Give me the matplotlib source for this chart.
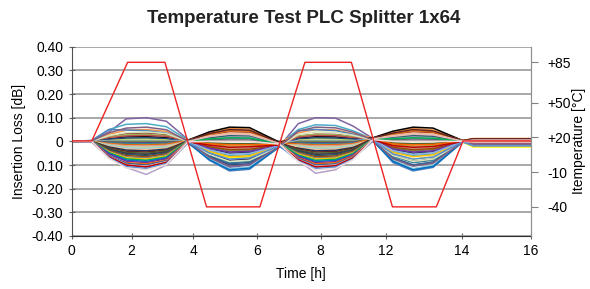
import matplotlib
matplotlib.use("Agg")
import matplotlib.pyplot as plt

plt.rcParams['font.family'] = ['Liberation Sans', 'DejaVu Sans']

# x positions of the Excel category ticks and their labels
xtick_pos = [0, 2.09, 4.24, 6.45, 8.68, 10.95, 13.60, 16]
xtick_lab = ['0', '2', '4', '6', '8', '12', '14', '16']

# chamber temperature profile
temp_time = [0, 0.70, 1.95, 3.25, 4.70, 6.56, 8.13, 9.75, 11.18, 12.71, 13.64, 16]
temp_c = [17, 17, 85, 85, -40, -40, 85, 85, -40, -40, 17, 17]

# insertion loss change per output port
il_time = [0, 0.7, 1.3, 1.9, 2.6, 3.3, 4.05, 4.8, 5.5, 6.2, 7.25, 7.9, 8.5, 9.2, 9.8,
           10.5, 11.2, 11.9, 12.6, 13.63, 14.0, 16]

ch01 = [0, 0.002, 0.04, 0.095, 0.10, 0.085, 0.008, -0.07, -0.11, -0.10, -0.02, 0.075, 0.10, 0.098, 0.065, 0.012, -0.085, -0.12, -0.105, 0.002, 0.002, 0.002]
ch02 = [0, 0.003, 0.05, 0.072, 0.075, 0.062, 0.006, -0.04, -0.06, -0.056, -0.012, 0.05, 0.07, 0.067, 0.045, 0.01, -0.042, -0.06, -0.053, 0.003, 0.008, 0.008]
ch03 = [0, 0.001, 0.03, 0.047, 0.05, 0.042, 0.004, 0.036, 0.055, 0.052, -0.006, 0.036, 0.05, 0.048, 0.033, 0.014, 0.039, 0.055, 0.048, 0.004, 0.012, 0.012]
ch04 = [0, 0.004, 0.05, 0.048, 0.045, 0.035, -0.002, -0.08, -0.125, -0.118, -0.022, 0.045, 0.05, 0.045, 0.03, 0.004, -0.09, -0.125, -0.11, -0.002, -0.005, -0.005]
ch05 = [0, 0.0, 0.012, 0.019, 0.02, 0.017, 0.005, 0.04, 0.06, 0.058, -0.004, 0.015, 0.02, 0.019, 0.013, 0.015, 0.043, 0.06, 0.056, 0.003, 0.01, 0.01]
ch06 = [0, 0.001, 0.02, 0.033, 0.035, 0.029, 0.003, 0.026, 0.04, 0.038, -0.008, 0.022, 0.03, 0.029, 0.02, 0.012, 0.028, 0.04, 0.036, 0.002, 0.006, 0.006]
ch07 = [0, 0.0, 0.018, 0.028, 0.03, 0.025, 0.001, -0.013, -0.02, -0.019, -0.013, 0.022, 0.03, 0.028, 0.02, 0.008, -0.014, -0.02, -0.018, 0.0, 0.0, 0.0]
ch08 = [0, -0.001, 0.015, 0.023, 0.025, 0.021, 0.002, 0.02, 0.03, 0.028, -0.01, 0.018, 0.025, 0.024, 0.016, 0.01, 0.021, 0.03, 0.027, 0.001, 0.004, 0.004]
ch09 = [0, -0.004, 0.006, 0.009, 0.01, 0.008, -0.004, -0.046, -0.07, -0.066, -0.02, 0.007, 0.01, 0.01, 0.006, 0.002, -0.052, -0.075, -0.066, -0.003, -0.024, -0.024]
ch10 = [0, -0.002, 0.009, 0.014, 0.015, 0.012, -0.003, -0.065, -0.10, -0.095, -0.021, 0.011, 0.015, 0.014, 0.01, 0.003, -0.07, -0.10, -0.088, -0.002, -0.01, -0.01]
ch11 = [0, 0.001, 0.003, 0.005, 0.005, 0.004, 0.001, 0.013, 0.02, 0.019, -0.011, 0.004, 0.005, 0.005, 0.003, 0.009, 0.014, 0.02, 0.018, 0.001, 0.003, 0.003]
ch12 = [0, -0.001, 0.0, 0.0, 0.0, 0.0, -0.001, -0.026, -0.04, -0.038, -0.016, 0.0, 0.0, 0.0, 0.0, 0.006, -0.028, -0.04, -0.035, -0.001, -0.008, -0.008]
ch13 = [0, 0.0, -0.003, -0.005, -0.005, -0.004, 0.0, 0.007, 0.01, 0.01, -0.012, -0.004, -0.005, -0.005, -0.003, 0.007, 0.007, 0.01, 0.009, 0.0, -0.003, -0.003]
ch14 = [0, -0.002, -0.006, -0.009, -0.01, -0.008, -0.003, -0.058, -0.09, -0.085, -0.019, -0.007, -0.01, -0.01, -0.007, 0.004, -0.063, -0.09, -0.08, -0.002, -0.015, -0.015]
ch15 = [0, 0.0, -0.009, -0.014, -0.015, -0.012, 0.004, 0.03, 0.045, 0.043, -0.007, -0.011, -0.015, -0.014, -0.01, 0.013, 0.032, 0.045, 0.04, 0.003, 0.009, 0.009]
ch16 = [0, -0.001, -0.012, -0.019, -0.02, -0.017, -0.001, -0.02, -0.03, -0.028, -0.015, -0.015, -0.02, -0.019, -0.013, 0.006, -0.021, -0.03, -0.027, -0.001, -0.006, -0.006]
ch17 = [0, 0.0, -0.015, -0.023, -0.025, -0.021, 0.0, 0.0, 0.0, 0.0, -0.013, -0.018, -0.025, -0.024, -0.016, 0.007, 0.0, 0.0, 0.0, 0.0, -0.002, -0.002]
ch18 = [0, -0.003, -0.06, -0.11, -0.14, -0.10, -0.008, 0.013, 0.02, 0.019, -0.012, -0.08, -0.135, -0.12, -0.07, 0.0, 0.014, 0.02, 0.018, -0.002, -0.012, -0.012]
ch19 = [0, -0.002, -0.018, -0.028, -0.03, -0.025, -0.004, -0.075, -0.115, -0.108, -0.022, -0.022, -0.03, -0.029, -0.02, 0.003, -0.08, -0.115, -0.1, -0.002, -0.018, -0.018]
ch20 = [0, 0.0, -0.021, -0.033, -0.035, -0.029, 0.003, 0.023, 0.035, 0.033, -0.008, -0.025, -0.035, -0.033, -0.023, 0.012, 0.025, 0.035, 0.031, 0.002, 0.007, 0.007]
ch21 = [0, -0.001, -0.024, -0.037, -0.04, -0.033, -0.002, -0.033, -0.05, -0.047, -0.017, -0.029, -0.04, -0.038, -0.026, 0.005, -0.035, -0.05, -0.044, -0.001, -0.011, -0.011]
ch22 = [0, 0.001, -0.027, -0.042, -0.045, -0.037, 0.004, 0.033, 0.05, 0.047, -0.006, -0.032, -0.045, -0.043, -0.029, 0.014, 0.035, 0.05, 0.044, 0.003, 0.011, 0.011]
ch23 = [0, 0.0, -0.03, -0.047, -0.05, -0.041, 0.0, -0.007, -0.01, -0.01, -0.014, -0.036, -0.05, -0.048, -0.033, 0.007, -0.007, -0.01, -0.009, 0.0, -0.004, -0.004]
ch24 = [0, -0.002, -0.033, -0.051, -0.055, -0.045, -0.003, -0.052, -0.08, -0.075, -0.019, -0.04, -0.055, -0.052, -0.036, 0.004, -0.06, -0.085, -0.075, -0.002, -0.016, -0.016]
ch25 = [0, 0.0, -0.036, -0.056, -0.06, -0.049, 0.002, 0.016, 0.025, 0.024, -0.01, -0.043, -0.06, -0.057, -0.039, 0.01, 0.018, 0.025, 0.022, 0.001, 0.002, 0.002]
ch26 = [0, -0.001, -0.039, -0.06, -0.065, -0.053, -0.001, -0.023, -0.035, -0.033, -0.016, -0.047, -0.065, -0.062, -0.042, 0.006, -0.025, -0.035, -0.031, -0.001, -0.007, -0.007]
ch27 = [0, 0.0, -0.042, -0.065, -0.07, -0.057, 0.001, 0.003, 0.005, 0.005, -0.012, -0.05, -0.07, -0.067, -0.046, 0.008, 0.004, 0.005, 0.004, 0.0, -0.001, -0.001]
ch28 = [0, -0.003, -0.045, -0.07, -0.075, -0.062, -0.002, -0.042, -0.065, -0.061, -0.018, -0.054, -0.075, -0.071, -0.049, 0.004, -0.046, -0.065, -0.057, -0.002, -0.02, -0.02]
ch29 = [0, 0.0, -0.048, -0.074, -0.08, -0.066, 0.001, 0.01, 0.015, 0.014, -0.011, -0.058, -0.08, -0.076, -0.052, 0.009, 0.011, 0.015, 0.013, 0.001, 0.001, 0.001]
ch30 = [0, -0.002, -0.051, -0.079, -0.085, -0.07, -0.006, -0.078, -0.12, -0.113, -0.023, -0.061, -0.085, -0.081, -0.055, 0.002, -0.084, -0.12, -0.106, -0.002, -0.013, -0.013]
ch31 = [0, -0.001, -0.054, -0.084, -0.09, -0.074, -0.002, -0.029, -0.045, -0.042, -0.017, -0.065, -0.09, -0.086, -0.059, 0.005, -0.032, -0.045, -0.04, -0.001, -0.009, -0.009]
ch32 = [0, -0.002, -0.07, -0.09, -0.095, -0.08, -0.001, -0.01, -0.015, -0.014, -0.014, -0.07, -0.095, -0.09, -0.062, 0.007, -0.011, -0.015, -0.013, 0.0, -0.005, -0.005]
ch33 = [0, -0.002, -0.06, -0.093, -0.10, -0.082, -0.005, -0.062, -0.095, -0.089, -0.021, -0.072, -0.10, -0.095, -0.065, 0.003, -0.07, -0.10, -0.088, -0.002, -0.014, -0.014]
ch34 = [0, 0.0, -0.063, -0.098, -0.105, -0.086, 0.0, 0.02, 0.03, 0.028, -0.009, -0.076, -0.105, -0.1, -0.068, 0.011, 0.021, 0.03, 0.027, 0.001, 0.005, 0.005]
ch35 = [0, -0.001, -0.066, -0.102, -0.11, -0.09, -0.003, -0.036, -0.055, -0.051, -0.018, -0.079, -0.11, -0.105, -0.072, 0.005, -0.039, -0.055, -0.048, -0.001, -0.01, -0.01]
ch36 = [0, -0.001, -0.065, -0.1, -0.108, -0.089, -0.002, -0.016, -0.025, -0.023, -0.015, -0.078, -0.108, -0.103, -0.07, 0.006, -0.018, -0.025, -0.022, -0.001, -0.006, -0.006]
ch37 = [0, 0.001, 0.024, 0.037, 0.04, 0.033, -0.001, -0.055, -0.085, -0.08, -0.02, 0.029, 0.04, 0.038, 0.026, 0.005, -0.06, -0.085, -0.075, -0.002, -0.017, -0.017]
ch38 = [0, 0.002, 0.036, 0.056, 0.06, 0.049, 0.0, -0.068, -0.105, -0.098, -0.021, 0.043, 0.06, 0.057, 0.039, 0.006, -0.074, -0.105, -0.092, -0.001, -0.012, -0.012]
ch39 = [0, -0.002, -0.069, -0.107, -0.115, -0.094, -0.004, -0.049, -0.075, -0.07, -0.019, -0.083, -0.115, -0.109, -0.075, 0.004, -0.053, -0.075, -0.066, -0.002, -0.019, -0.019]
ch40 = [0, -0.001, -0.072, -0.112, -0.12, -0.098, -0.002, 0.0, 0.0, 0.0, -0.012, -0.086, -0.12, -0.114, -0.078, 0.007, 0.0, 0.0, 0.0, 0.0, -0.003, -0.003]

channels = [ch01, ch02, ch03, ch04, ch05, ch06, ch07, ch08, ch09, ch10,
            ch11, ch12, ch13, ch14, ch15, ch16, ch17, ch18, ch19, ch20,
            ch21, ch22, ch23, ch24, ch25, ch26, ch27, ch28, ch29, ch30,
            ch31, ch32, ch33, ch34, ch35, ch36, ch37, ch38, ch39, ch40]

colors = ['#8064A2', '#4BACC6', '#F79646', '#4F81BD', '#000000', '#953735', '#9BBB59', '#C0504D',
          '#FFFF00', '#1F497D', '#95B3D7', '#76923C', '#5F497A', '#31859C', '#E36C09', '#D99694',
          '#C3D69B', '#B3A2C7', '#93CDDD', '#FAC090', '#17375E', '#632523', '#4F6228', '#3F3151',
          '#215968', '#984807', '#7F7F7F', '#FFC000', '#00B050', '#0070C0', '#7030A0', '#FF6600',
          '#366092', '#E6B9B8', '#8DB3E2', '#C00000', '#D7E4BC', '#7F6084', '#558ED5', '#F2DCDB']

fig = plt.figure(figsize=(5.9, 2.89), dpi=100)
ax = fig.add_axes([0.1215, 0.1834, 0.778, 0.655])

for vals, col in zip(channels, colors):
    ax.plot(il_time, vals, color=col, lw=1.1)

ax.set_xlim(0, 16)
ax.set_ylim(-0.4, 0.4)
ax.set_yticks([0.4, 0.3, 0.2, 0.1, 0, -0.1, -0.2, -0.3, -0.4])
ax.set_yticklabels(['0.40', '0.30', '0.20', '0.10', '0', '0.10', '-0.20', '-0.30', '-0.40'])
ax.set_xticks(xtick_pos)
ax.set_xticklabels(xtick_lab)
ax.yaxis.grid(True, color='#9a9a9a', lw=1.2)
ax.set_axisbelow(True)
ax.tick_params(axis='both', labelsize=10, color='#606060', direction='inout', length=5)
ax.spines['top'].set_visible(False)
ax.spines['left'].set_color('#505050')
ax.spines['bottom'].set_color('#303030')
ax.spines['right'].set_color('#909090')

ax.set_xlabel('Time [h]', fontsize=10, labelpad=6)
ax.set_ylabel('Insertion Loss [dB]', fontsize=10, labelpad=4)

ax2 = ax.twinx()
ax2.plot(temp_time, temp_c, color='#ee2222', lw=1.0, zorder=5)
ax2.set_ylim(-65.2, 98.5)
ax2.set_yticks([85, 50, 20, -10, -40])
ax2.set_yticklabels(['+85', '+50', '+20', '-10', '-40'])
ax2.tick_params(axis='y', labelsize=10, color='#808080', length=5, pad=7)
ax2.spines['top'].set_visible(False)
ax2.spines['right'].set_color('#909090')
ax2.spines['left'].set_visible(False)
ax2.spines['bottom'].set_visible(False)
ax2.set_ylabel('Itemperature [°C]', fontsize=10, labelpad=1)

fig.suptitle('Temperature Test PLC Splitter 1x64', fontsize=13.5, fontweight='bold',
             x=0.515, y=0.965, color='#222222')

fig.savefig('out.png', dpi=100)
